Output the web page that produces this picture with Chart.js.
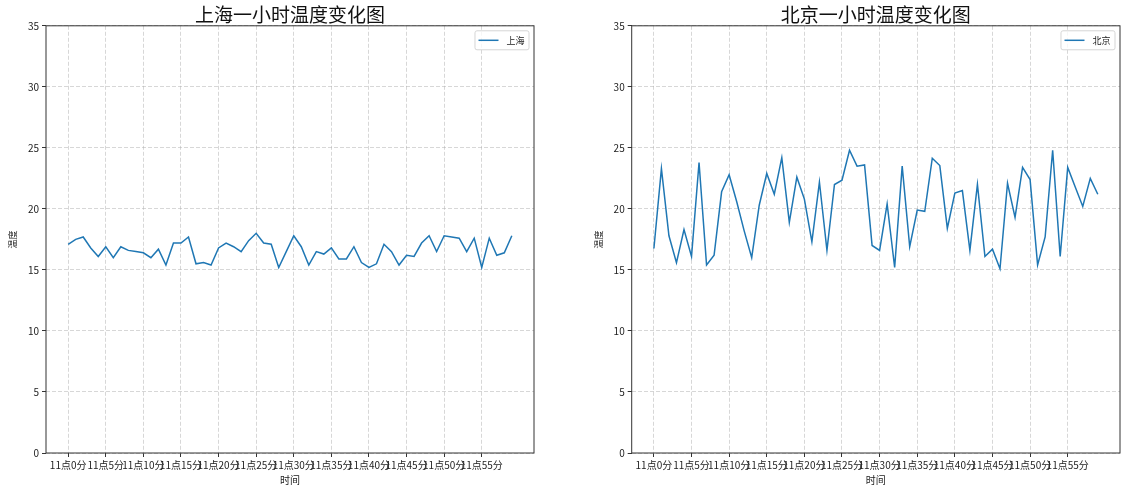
<!DOCTYPE html>
<html>
<head>
<meta charset="utf-8">
<script src="https://cdn.jsdelivr.net/npm/chart.js@4"></script>
<style>
  body { margin: 0; background: #fff; }
  canvas { position: absolute; top: 0; }
  #shChart { left: 0; }
  #bjChart { left: 567px; }
</style>
</head>
<body>
<canvas id="shChart" width="567" height="499"></canvas>
<canvas id="bjChart" width="568" height="499"></canvas>
<script>
const FONT = "'Noto Sans CJK SC', 'Noto Sans', sans-serif";

const TICK_POS = [0, 5, 10, 15, 20, 25, 30, 35, 40, 45, 50, 55];
const TICK_LABELS = [
  "11点0分", "11点5分", "11点10分", "11点15分", "11点20分", "11点25分",
  "11点30分", "11点35分", "11点40分", "11点45分", "11点50分", "11点55分",
];

// 上海 每分钟温度
const SH_TEMPS = [
  17.1, 17.5, 17.7, 16.8, 16.1, 16.9, 16.0, 16.9, 16.6, 16.5,
  16.4, 16.0, 16.7, 15.4, 17.2, 17.2, 17.7, 15.5, 15.6, 15.4,
  16.8, 17.2, 16.9, 16.5, 17.4, 18.0, 17.2, 17.1, 15.2, 16.5,
  17.8, 16.9, 15.4, 16.5, 16.3, 16.8, 15.9, 15.9, 16.9, 15.6,
  15.2, 15.5, 17.1, 16.5, 15.4, 16.2, 16.1, 17.2, 17.8, 16.5,
  17.8, 17.7, 17.6, 16.5, 17.6, 15.2, 17.6, 16.2, 16.4, 17.8,
];

// 北京 每分钟温度
const BJ_TEMPS = [
  16.75, 23.3, 17.8, 15.6, 18.3, 16.1, 23.8, 15.4, 16.2, 21.4,
  22.8, 20.6, 18.2, 16.0, 20.3, 22.9, 21.2, 24.2, 18.9, 22.6,
  20.8, 17.3, 22.2, 16.6, 22.0, 22.35, 24.8, 23.5, 23.6, 17.0,
  16.6, 20.4, 15.2, 23.5, 16.9, 19.9, 19.8, 24.15, 23.55, 18.4,
  21.3, 21.5, 16.6, 22.0, 16.1, 16.7, 15.1, 22.1, 19.3, 23.4,
  22.4, 15.4, 17.7, 24.8, 16.1, 23.4, 21.8, 20.2, 22.5, 21.2,
];

const Y_MIN = 0;
const Y_MAX = 35;
const Y_STEP = 5;

const LINE_COLOR = "#1f77b4";
const GRID_COLOR = "rgba(176,176,176,0.5)";

// 外框 + 图内图例（matplotlib 风格）
const frameAndLegend = {
  id: "frameAndLegend",
  afterDraw(chart) {
    const { ctx, chartArea: a } = chart;
    ctx.save();
    ctx.strokeStyle = "#333";
    ctx.lineWidth = 1;
    ctx.strokeRect(a.left, a.top, a.right - a.left, a.bottom - a.top);

    const ds = chart.data.datasets[0];
    ctx.font = "9px " + FONT;
    const tw = ctx.measureText(ds.label).width;
    const w = 3.5 + 20 + 8 + tw + 4.5;
    const h = 19;
    const x = a.right - 5 - w;
    const y = a.top + 5;
    ctx.fillStyle = "rgba(255,255,255,0.8)";
    ctx.strokeStyle = "#d5d5d5";
    ctx.beginPath();
    ctx.roundRect(x, y, w, h, 2);
    ctx.fill();
    ctx.stroke();
    ctx.strokeStyle = ds.borderColor;
    ctx.lineWidth = 1.5;
    ctx.beginPath();
    ctx.moveTo(x + 3.5, y + h / 2);
    ctx.lineTo(x + 23.5, y + h / 2);
    ctx.stroke();
    ctx.fillStyle = "#222";
    ctx.textBaseline = "middle";
    ctx.fillText(ds.label, x + 31.5, y + h / 2 + 0.5);
    ctx.restore();
  },
};

function makeChart(id, title, label, temps, padLeft, padRight) {
  const ctx = document.getElementById(id).getContext("2d");
  return new Chart(ctx, {
    type: "line",
    data: {
      datasets: [
        {
          label: label,
          data: temps.map((v, i) => ({ x: i, y: v })),
          borderColor: LINE_COLOR,
          borderWidth: 1.5,
          pointRadius: 0,
          tension: 0,
          fill: false,
        },
      ],
    },
    options: {
      responsive: false,
      animation: false,
      layout: { padding: { left: padLeft, right: padRight, top: 0, bottom: 0 } },
      plugins: {
        legend: { display: false },
        tooltip: { enabled: false },
        title: {
          display: true,
          text: title,
          fullSize: false,
          color: "#111",
          font: { family: FONT, size: 19, weight: "normal", lineHeight: 1.2 },
          padding: { top: 3, bottom: 0 },
        },
      },
      scales: {
        x: {
          type: "linear",
          min: -2.95,
          max: 61.95,
          afterBuildTicks: (s) => {
            s.ticks = TICK_POS.map((v) => ({ value: v }));
          },
          afterFit: (s) => {
            s.height = 46;
          },
          ticks: {
            autoSkip: false,
            maxRotation: 0,
            padding: 2,
            color: "#222",
            font: { family: FONT, size: 10 },
            callback: (v) => TICK_LABELS[TICK_POS.indexOf(v)],
          },
          grid: {
            color: GRID_COLOR,
            tickColor: "#333",
            tickLength: 4,
          },
          border: { display: false, dash: [4, 2] },
          title: {
            display: true,
            text: "时间",
            color: "#222",
            font: { family: FONT, size: 10 },
            padding: { top: 0, bottom: 13 },
          },
        },
        y: {
          min: Y_MIN,
          max: Y_MAX,
          afterFit: (s) => {
            s.width = 46;
          },
          ticks: {
            stepSize: Y_STEP,
            padding: 3,
            color: "#222",
            font: { family: FONT, size: 10 },
          },
          grid: {
            color: GRID_COLOR,
            tickColor: "#333",
            tickLength: 4,
          },
          border: { display: false, dash: [4, 2] },
          title: {
            display: true,
            text: "温度",
            color: "#222",
            font: { family: FONT, size: 9 },
            padding: { top: 7, bottom: 0 },
          },
        },
      },
    },
    plugins: [frameAndLegend],
  });
}

makeChart("shChart", "上海一小时温度变化图", "上海", SH_TEMPS, 0, 33);
makeChart("bjChart", "北京一小时温度变化图", "北京", BJ_TEMPS, 18.7, 15);
</script>
</body>
</html>
